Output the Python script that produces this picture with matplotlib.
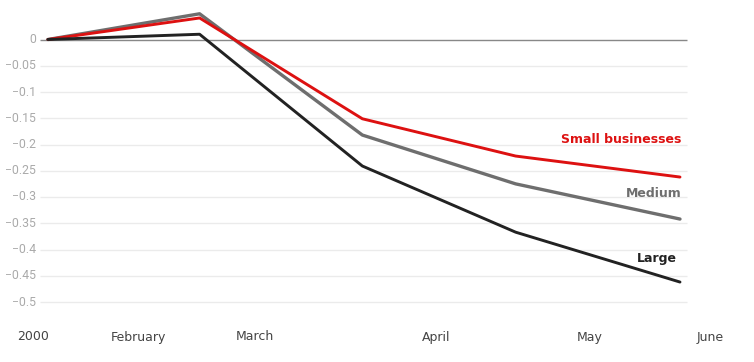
import matplotlib.pyplot as plt

# data
x_pts = [0, 0.96, 1.99, 2.96, 4.0]
small = [0, 0.041, -0.151, -0.222, -0.262]
medium = [0, 0.049, -0.182, -0.275, -0.342]
large = [0, 0.010, -0.241, -0.367, -0.462]

month_pos = [-0.095, 0.57, 1.31, 2.46, 3.43, 4.19]
month_labels = ["2000", "February", "March", "April", "May", "June"]
yticks = [0, -0.05, -0.1, -0.15, -0.2, -0.25, -0.3, -0.35, -0.4, -0.45, -0.5]

red = "#dd1111"
grey = "#6e6e6e"
black = "#222222"

fig = plt.figure(figsize=(7.54, 3.62), dpi=100)
ax = fig.add_axes([40 / 754, 1 - 318 / 362, (745 - 40) / 754, (318 - 5) / 362])
ax.set_xlim(-0.05, (745 - 48) / 158)
ax.set_ylim(-0.5 - 16 / 525, 34.5 / 525)
ax.axis("off")

x0, x1 = -0.05, (687 - 48) / 158
for v in yticks[1:]:
    ax.hlines(v, x0, x1, color="#ebebeb", lw=1, zorder=1)
    ax.text(x0 - 0.025, v, "{:g}".format(v).replace("-", "\u2212"), ha="right", va="center",
            fontsize=8.8, color="#aaaaaa", family="Roboto")
ax.hlines(0, x0, x1, color="#888888", lw=1, zorder=1)
ax.text(x0 - 0.025, 0, "0", ha="right", va="center", fontsize=8.8, color="#aaaaaa", family="Roboto")

ax.plot(x_pts, medium, color=grey, lw=2.4, zorder=3, solid_capstyle="round")
ax.plot(x_pts, small, color=red, lw=2.1, zorder=4, solid_capstyle="round")
ax.plot(x_pts, large, color=black, lw=2.1, zorder=5, solid_capstyle="round")

ax.text(4.01, -0.19, "Small businesses", color=red, fontsize=9, fontweight="bold", ha="right", va="center")
ax.text(4.01, -0.294, "Medium", color=grey, fontsize=9, fontweight="bold", ha="right", va="center")
ax.text(3.98, -0.418, "Large", color=black, fontsize=9, fontweight="bold", ha="right", va="center")

for p, lab in zip(month_pos, month_labels):
    ax.text(p, -0.5 - 35 / 525, lab, ha="center", va="center", fontsize=9, color="#444444")

fig.savefig("out.png", dpi=100)
